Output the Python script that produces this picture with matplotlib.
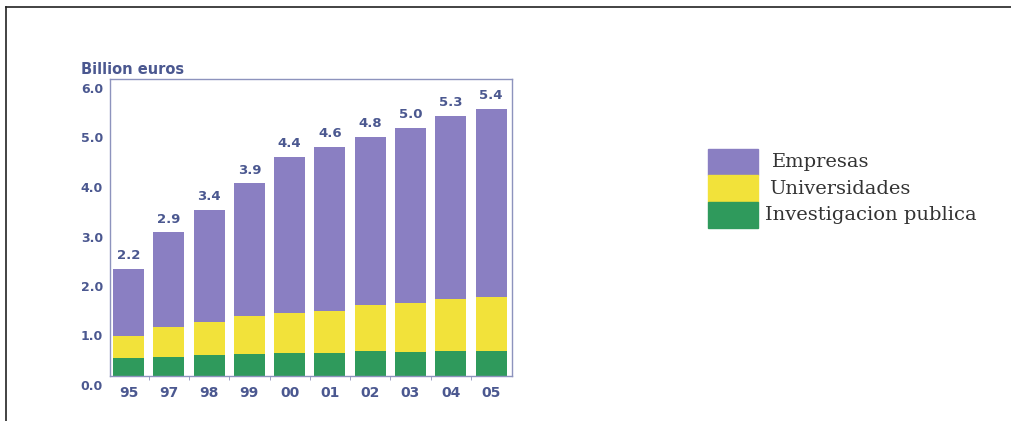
import numpy as np
import matplotlib
matplotlib.use("Agg")
import matplotlib.pyplot as plt
import matplotlib.transforms as mtransforms
from matplotlib.patches import Rectangle
from matplotlib.lines import Line2D

# data (billion euros)
years = ["95", "97", "98", "99", "00", "01", "02", "03", "04", "05"]
investigacion = [0.36, 0.39, 0.42, 0.44, 0.46, 0.46, 0.51, 0.48, 0.50, 0.50]
universidades = [0.44, 0.59, 0.68, 0.77, 0.81, 0.86, 0.92, 0.99, 1.06, 1.10]
empresas = [1.36, 1.92, 2.26, 2.68, 3.15, 3.30, 3.40, 3.54, 3.69, 3.79]
total_labels = ["2.2", "2.9", "3.4", "3.9", "4.4", "4.6", "4.8", "5.0", "5.3", "5.4"]
series_names = ["Empresas", "Universidades", "Investigacion publica"]

c_emp = "#8a7fc2"
c_uni = "#f2e23a"
c_inv = "#2f9a5c"
txt_col = "#4b5890"
spine_col = "#8d93bd"

plt.rcParams["font.family"] = ["DejaVu Sans"]

fig = plt.figure(figsize=(10.11, 4.21), dpi=100)
fig.patch.set_facecolor("white")

ax = fig.add_axes([110 / 1011, 45 / 421, 402 / 1011, 297 / 421])
x = np.arange(len(years))
w = 0.77
inv = np.array(investigacion)
uni = np.array(universidades)
emp = np.array(empresas)
ax.bar(x, inv, w, color=c_inv, linewidth=0)
ax.bar(x, uni, w, bottom=inv, color=c_uni, linewidth=0)
ax.bar(x, emp, w, bottom=inv + uni, color=c_emp, linewidth=0)

tops = inv + uni + emp
for xi, t, lab in zip(x, tops, total_labels):
    ax.annotate(lab, (xi, t), xytext=(0, 5), textcoords="offset points",
                ha="center", va="bottom", fontsize=9.5, fontweight="bold",
                color=txt_col)

ax.set_xlim(-0.46, 9.52)
ax.set_ylim(0, 6)
for s in ax.spines.values():
    s.set_color(spine_col)
    s.set_linewidth(1.0)

ax.set_yticks(np.arange(0, 6.01, 1.0))
ax.set_yticklabels(["%.1f" % v for v in np.arange(0, 6.01, 1.0)])
ax.tick_params(axis="y", length=0, pad=5, labelsize=9, labelcolor=txt_col)
# y labels sit a bit lower than their gridline in the original
off = mtransforms.ScaledTranslation(0, -9 / 100, fig.dpi_scale_trans)
for lab in ax.get_yticklabels():
    lab.set_fontweight("bold")
    lab.set_transform(lab.get_transform() + off)

ax.set_xticks(x)
ax.set_xticklabels(years, fontweight="bold")
ax.tick_params(axis="x", length=0, pad=7, labelsize=10, labelcolor=txt_col)
ax.set_xticks(x[:-1] + 0.5, minor=True)
ax.tick_params(axis="x", which="minor", length=3, color=spine_col, direction="out")

fig.text(81 / 1011, 1 - 70 / 421, "Billion euros", fontsize=10.5, fontweight="bold",
         color=txt_col, ha="left", va="center")

# legend drawn by hand: stacked swatches with no gaps
legend_colors = [c_emp, c_uni, c_inv]
sw_y = [149, 175, 202, 228]
text_x = [772, 769, 765]
text_y = [162, 189, 215]
for i, (name, col) in enumerate(zip(series_names, legend_colors)):
    fig.patches.append(Rectangle((708 / 1011, 1 - sw_y[i + 1] / 421), 50 / 1011,
                                 (sw_y[i + 1] - sw_y[i]) / 421, color=col,
                                 transform=fig.transFigure, figure=fig))
    fig.text(text_x[i] / 1011, 1 - text_y[i] / 421, name, fontsize=14,
             family=["DejaVu Serif"], color="#333333", ha="left", va="center")

# frame lines on the left and top
fig.add_artist(Line2D([6 / 1011, 6 / 1011], [0, 1 - 7 / 421], color="#222222",
                      linewidth=1.2, transform=fig.transFigure))
fig.add_artist(Line2D([6 / 1011, 1], [1 - 7 / 421, 1 - 7 / 421], color="#222222",
                      linewidth=1.2, transform=fig.transFigure))

fig.savefig("out.png", dpi=100)
